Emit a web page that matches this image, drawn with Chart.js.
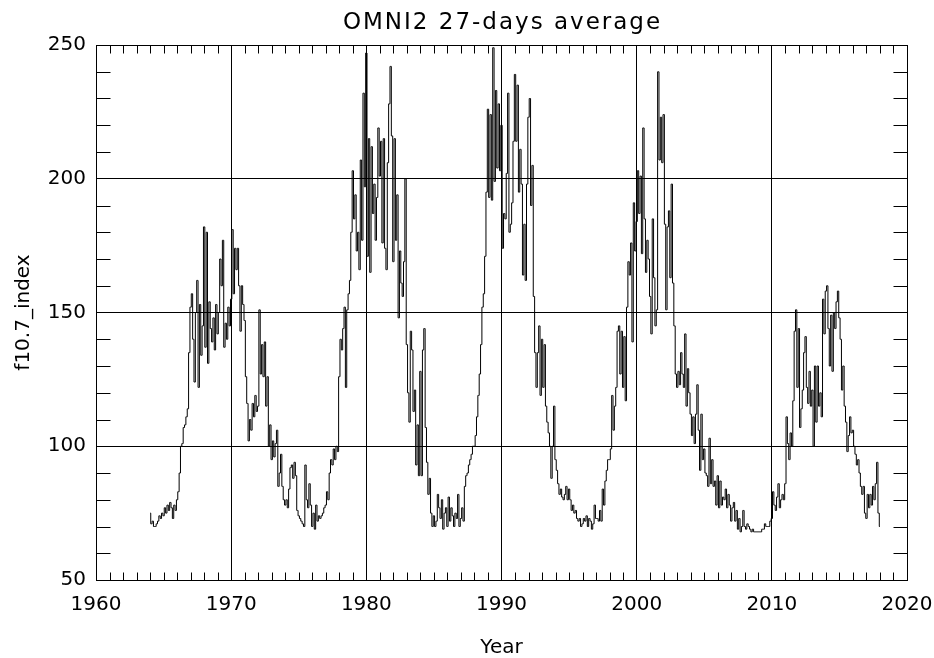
<!DOCTYPE html>
<html>
<head>
<meta charset="utf-8">
<script src="https://cdn.jsdelivr.net/npm/chart.js@4.4.1/dist/chart.umd.min.js"></script>
<style>
  body { margin: 0; background: #fff; }
</style>
</head>
<body>
<canvas id="f107Chart" width="934" height="658"></canvas>
<script>
// OMNI2 f10.7 index, one row per year (every 0.1 yr)
var startYear = 1964;
var stepYears = 0.1;
var f107 = [
  75, 71, 72, 70, 70, 71, 72, 74, 73, 75,        // 1964
  74, 77, 75, 78, 76, 79, 77, 73, 78, 76,        // 1965
  80, 83, 90, 100, 101, 107, 108, 111, 114, 135, // 1966
  152, 157, 140, 124, 150, 162, 122, 153, 134, 145, // 1967
  182, 137, 180, 131, 154, 144, 139, 148, 136, 153, // 1968
  142, 150, 170, 160, 177, 137, 146, 140, 152, 145, // 1969
  155, 181, 157, 174, 166, 174, 160, 143, 160, 153, // 1970
  147, 126, 116, 102, 110, 106, 116, 111, 119, 113, // 1971
  115, 151, 127, 138, 126, 139, 115, 126, 100, 108, // 1972
  95, 102, 96, 101, 106, 85, 90, 97, 85, 80,     // 1973
  78, 80, 77, 84, 92, 93, 88, 94, 89, 76,        // 1974
  74, 73, 72, 71, 70, 93, 80, 77, 86, 78,        // 1975
  70, 75, 69, 78, 72, 74, 73, 74, 75, 77,        // 1976
  78, 83, 80, 90, 95, 93, 99, 95, 100, 98,       // 1977
  126, 140, 136, 144, 152, 122, 151, 157, 162, 180, // 1978
  203, 185, 194, 173, 180, 166, 207, 177, 232, 197, // 1979
  247, 171, 215, 165, 212, 187, 198, 177, 193, 219, // 1980
  201, 214, 176, 215, 174, 166, 206, 228, 242, 216, // 1981
  169, 215, 177, 194, 148, 173, 161, 156, 169, 200, // 1982
  138, 120, 109, 143, 136, 113, 121, 93, 108, 89,   // 1983
  128, 89, 136, 144, 107, 94, 82, 88, 75, 70,    // 1984
  74, 70, 72, 82, 77, 73, 80, 69, 75, 77,        // 1985
  70, 81, 72, 77, 74, 70, 75, 73, 82, 70,        // 1986
  73, 77, 72, 85, 89, 90, 93, 95, 97, 100,       // 1987
  100, 104, 111, 119, 127, 138, 152, 157, 171, 195, // 1988
  226, 193, 224, 192, 249, 199, 233, 204, 228, 203, // 1989
  220, 174, 187, 185, 202, 232, 180, 183, 191, 214, // 1990
  239, 214, 235, 195, 211, 198, 164, 183, 162, 198, // 1991
  223, 230, 190, 205, 156, 135, 122, 135, 145, 119, // 1992
  140, 122, 138, 115, 109, 105, 100, 88, 100, 115,  // 1993
  95, 91, 86, 82, 84, 81, 80, 82, 85, 80,        // 1994
  84, 80, 76, 78, 75, 76, 73, 72, 73, 70,        // 1995
  71, 73, 72, 74, 70, 73, 72, 69, 71, 78,        // 1996
  73, 73, 72, 76, 72, 84, 78, 87, 91, 95,        // 1997
  95, 99, 119, 106, 115, 122, 143, 145, 127, 143,   // 1998
  122, 141, 117, 152, 169, 164, 176, 139, 191, 173, // 1999
  184, 203, 187, 201, 172, 219, 185, 165, 177, 170, // 2000
  156, 142, 185, 163, 145, 151, 240, 207, 223, 206, // 2001
  224, 183, 151, 182, 188, 163, 198, 161, 145, 127, // 2002
  122, 128, 123, 135, 127, 122, 142, 115, 129, 120, // 2003
  112, 104, 111, 101, 112, 123, 106, 91, 112, 95,   // 2004
  99, 90, 89, 85, 103, 86, 95, 85, 87, 78,       // 2005
  89, 77, 87, 78, 81, 80, 84, 77, 82, 78,        // 2006
  72, 77, 79, 72, 76, 69, 73, 68, 70, 76,        // 2007
  70, 69, 71, 70, 69, 68, 69, 68, 68, 68,        // 2008
  68, 68, 68, 69, 69, 71, 70, 70, 70, 72,        // 2009
  73, 83, 78, 76, 81, 86, 77, 80, 82, 80,        // 2010
  86, 111, 101, 95, 105, 100, 117, 143, 151, 122,   // 2011
  144, 107, 114, 121, 135, 141, 122, 116, 128, 115, // 2012
  121, 100, 130, 109, 130, 115, 120, 111, 155, 142, // 2013
  158, 160, 144, 130, 149, 128, 150, 144, 154, 158, // 2014
  148, 140, 121, 130, 115, 109, 98, 104, 111, 105,  // 2015
  106, 100, 97, 93, 95, 90, 85, 82, 85, 75,      // 2016
  73, 82, 77, 82, 78, 85, 80, 86, 94, 75,        // 2017
  70                                             // 2018
];

var xTicks = [1960, 1970, 1980, 1990, 2000, 2010, 2020];
var yTicks = [50, 100, 150, 200, 250];
var chartTitle = 'OMNI2 27-days average';

var points = [];
for (var i = 0; i < f107.length; i++) {
  points.push({ x: startYear + i * stepYears, y: f107[i] });
}

var textFont = 'DejaVu Sans';

// title, minor ticks (inward) and the top/right frame
var frameTicks = {
  id: 'frameTicks',
  afterDraw: function(chart) {
    var ctx = chart.ctx;
    var a = chart.chartArea;
    var xs = chart.scales.x;
    var ys = chart.scales.y;
    ctx.save();
    ctx.strokeStyle = '#000';
    ctx.lineWidth = 1;
    ctx.beginPath();
    var L = Math.round(a.left) + 0.5, R = Math.round(a.right) + 0.5;
    var T = Math.round(a.top) + 0.5, B = Math.round(a.bottom) + 0.5;
    ctx.moveTo(L, T); ctx.lineTo(R, T); ctx.lineTo(R, B);
    for (var yr = xTicks[0]; yr <= xTicks[xTicks.length - 1]; yr++) {
      if (yr % 10 === 0) continue;
      var px = Math.round(xs.getPixelForValue(yr)) + 0.5;
      ctx.moveTo(px, B); ctx.lineTo(px, B - 8);
      ctx.moveTo(px, T); ctx.lineTo(px, T + 8);
    }
    for (var v = yTicks[0]; v <= yTicks[yTicks.length - 1]; v += 10) {
      if (v % 50 === 0) continue;
      var py = Math.round(ys.getPixelForValue(v)) + 0.5;
      ctx.moveTo(L, py); ctx.lineTo(L + 14, py);
      ctx.moveTo(R, py); ctx.lineTo(R - 14, py);
    }
    ctx.stroke();

    // title centred over the plot box
    ctx.fillStyle = '#000';
    ctx.font = '23px "' + textFont + '"';
    ctx.letterSpacing = '2px';
    ctx.textAlign = 'center';
    ctx.textBaseline = 'alphabetic';
    ctx.fillText(chartTitle, (a.left + a.right) / 2 + 1, 29);
    ctx.restore();
  }
};

var ctx = document.getElementById('f107Chart').getContext('2d');
var myChart = new Chart(ctx, {
  type: 'line',
  data: {
    datasets: [{
      data: points,
      borderColor: '#000',
      borderWidth: 1,
      pointRadius: 0,
      stepped: 'middle',
      fill: false
    }]
  },
  options: {
    responsive: false,
    animation: false,
    layout: { padding: { left: 0, right: 27, top: 45, bottom: 0 } },
    plugins: {
      legend: { display: false },
      tooltip: { enabled: false },
      title: { display: false }
    },
    scales: {
      x: {
        type: 'linear',
        min: 1960,
        max: 2020,
        afterFit: function(scale) {
          scale.height = 78;
          scale.paddingLeft = 0;
          scale.paddingRight = 0;
        },
        afterBuildTicks: function(scale) {
          scale.ticks = xTicks.map(function(v) { return { value: v }; });
        },
        ticks: {
          color: '#000',
          padding: 13,
          maxRotation: 0,
          font: { family: textFont, size: 20 },
          callback: function(v) { return String(v); }
        },
        grid: { color: '#000', lineWidth: 1, drawTicks: false },
        border: { display: true, color: '#000', width: 1 },
        title: {
          display: true,
          text: 'Year',
          color: '#000',
          font: { family: textFont, size: 20, lineHeight: 1 },
          padding: { top: 0, bottom: 0 }
        }
      },
      y: {
        min: 50,
        max: 250,
        afterFit: function(scale) {
          scale.width = 96;
          scale.paddingTop = 0;
          scale.paddingBottom = 0;
        },
        afterBuildTicks: function(scale) {
          scale.ticks = yTicks.map(function(v) { return { value: v }; });
        },
        ticks: {
          color: '#000',
          padding: 10,
          font: { family: textFont, size: 20 },
          callback: function(v) { return String(v); }
        },
        grid: { color: '#000', lineWidth: 1, drawTicks: false },
        border: { display: true, color: '#000', width: 1 },
        title: {
          display: true,
          text: 'f10.7_index',
          color: '#000',
          font: { family: textFont, size: 20 },
          padding: { top: 12, bottom: 0 }
        }
      }
    }
  },
  plugins: [frameTicks]
});
</script>
</body>
</html>
